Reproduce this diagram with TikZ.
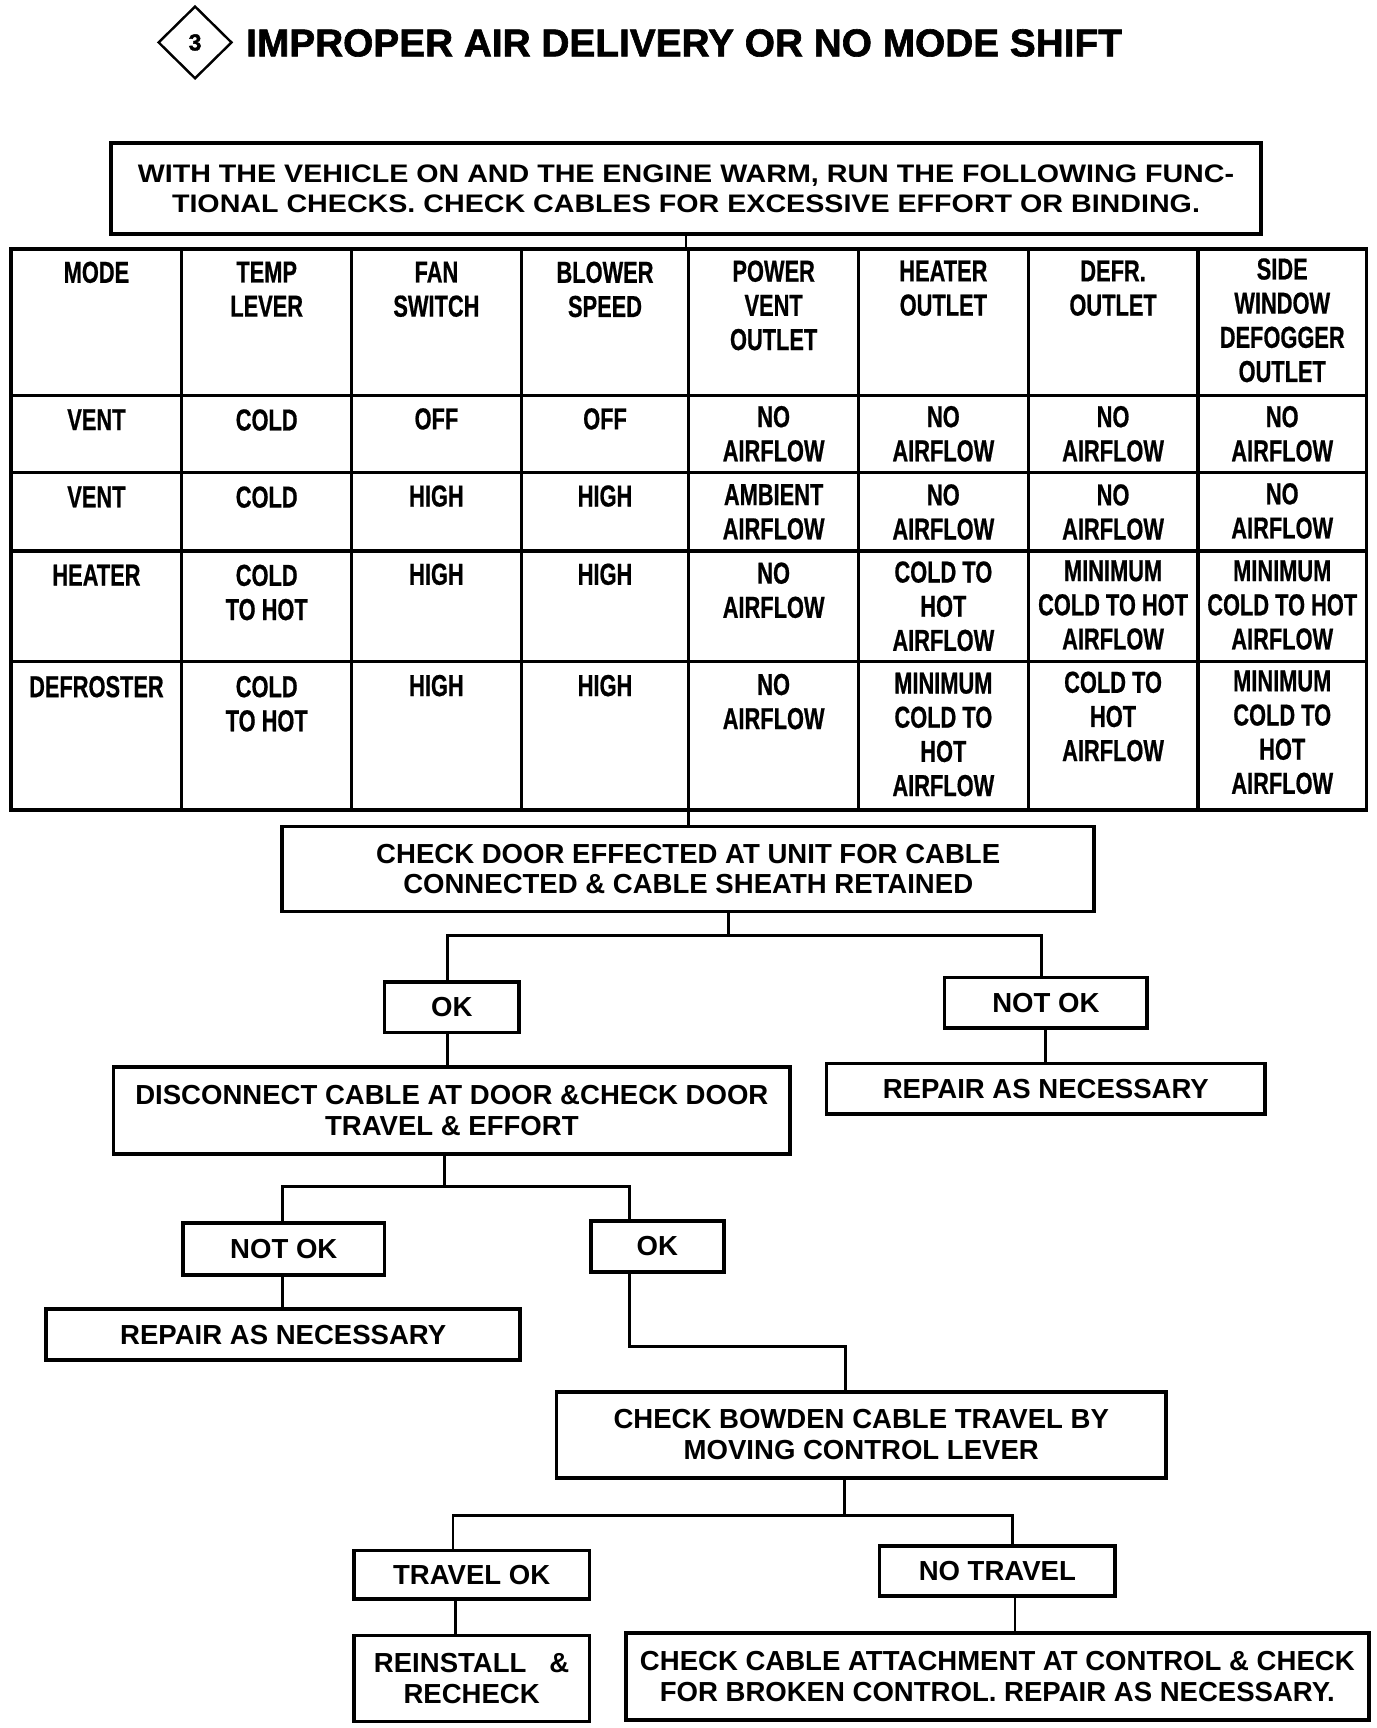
\documentclass[tikz,border=0pt]{standalone}
\usepackage{fontspec}
\setmainfont{Liberation Sans}
\newfontfamily\tabfont{Liberation Sans}[FakeStretch=0.72,FakeBold=0.6]
\newfontfamily\topfont{Liberation Sans}[FakeStretch=1.13]
\newfontfamily\titlefont{Liberation Sans}[FakeBold=1.6]
\usetikzlibrary{shapes.geometric}
\newcommand\tcell[4]{\node[cell] (#1) at (#2,#3) {#4};}
\begin{document}
\begin{tikzpicture}[x=0.5pt,y=-0.5pt,
  box/.style={draw, line width=1.7pt, inner sep=0pt, align=center, font=\bfseries\fontsize{12.5}{14}\selectfont},
  wh/.style 2 args={minimum width=#1*0.5pt, minimum height=#2*0.5pt},
  conn/.style={line width=1.3pt},
  tabline/.style={line width=1.5pt},
  cell/.style={anchor=north, inner sep=0pt, align=center, font=\tabfont\bfseries\fontsize{13.75}{15.5}\selectfont},
]
\fill[white] (0,0) rectangle (1249,1568);
\useasboundingbox (0,0) rectangle (1249,1568);

% title
\node[diamond, draw, line width=1.1pt, minimum width=67*0.5pt, minimum height=66*0.5pt, inner sep=0pt,
  font=\titlefont\bfseries\fontsize{10.5}{11}\selectfont] (dia) at (177,38.5) {3};
\node[anchor=west, inner sep=0pt, font=\titlefont\bfseries\fontsize{17.6}{20}\selectfont] (title) at (223,39)
  {IMPROPER AIR DELIVERY OR NO MODE SHIFT};

% top box
\node[box, wh={1043}{82}, line width=1.8pt, font=\topfont\bfseries\fontsize{11.5}{13.5}\selectfont] (top) at (622.5,171)
  {WITH THE VEHICLE ON AND THE ENGINE WARM, RUN THE FOLLOWING FUNC-\\TIONAL CHECKS. CHECK CABLES FOR EXCESSIVE EFFORT OR BINDING.};

% table
\node[draw, line width=1.5pt, inner sep=0pt, wh={1230}{509}] (tbl) at (625,480.5) {};
\foreach \x in {165,319,473,625,779,933,1087} \draw[tabline] (\x,226) -- (\x,735);
\foreach \y in {359,429,500,600} \draw[tabline] (10,\y) -- (1240,\y);

% header
\tcell{h1}{87.5}{237}{MODE}
\tcell{h2}{242}{237}{TEMP\\LEVER}
\tcell{h3}{396}{237}{FAN\\SWITCH}
\tcell{h4}{549}{237}{BLOWER\\SPEED}
\tcell{h5}{702}{236}{POWER\\VENT\\OUTLET}
\tcell{h6}{856}{236}{HEATER\\OUTLET}
\tcell{h7}{1010}{236}{DEFR.\\OUTLET}
\tcell{h8}{1163.5}{234}{SIDE\\WINDOW\\DEFOGGER\\OUTLET}
% row 1
\tcell{a1}{87.5}{371}{VENT}
\tcell{a2}{242}{371}{COLD}
\tcell{a3}{396}{370}{OFF}
\tcell{a4}{549}{370}{OFF}
\tcell{a5}{702}{368}{NO\\AIRFLOW}
\tcell{a6}{856}{368}{NO\\AIRFLOW}
\tcell{a7}{1010}{368}{NO\\AIRFLOW}
\tcell{a8}{1163.5}{368}{NO\\AIRFLOW}
% row 2
\tcell{b1}{87.5}{441}{VENT}
\tcell{b2}{242}{441}{COLD}
\tcell{b3}{396}{440}{HIGH}
\tcell{b4}{549}{440}{HIGH}
\tcell{b5}{702}{439}{AMBIENT\\AIRFLOW}
\tcell{b6}{856}{439}{NO\\AIRFLOW}
\tcell{b7}{1010}{439}{NO\\AIRFLOW}
\tcell{b8}{1163.5}{438}{NO\\AIRFLOW}
% row 3
\tcell{c1}{87.5}{512}{HEATER}
\tcell{c2}{242}{512}{COLD\\TO HOT}
\tcell{c3}{396}{511}{HIGH}
\tcell{c4}{549}{511}{HIGH}
\tcell{c5}{702}{510}{NO\\AIRFLOW}
\tcell{c6}{856}{509}{COLD TO\\HOT\\AIRFLOW}
\tcell{c7}{1010}{508}{MINIMUM\\COLD TO HOT\\AIRFLOW}
\tcell{c8}{1163.5}{508}{MINIMUM\\COLD TO HOT\\AIRFLOW}
% row 4
\tcell{d1}{87.5}{613}{DEFROSTER}
\tcell{d2}{242}{613}{COLD\\TO HOT}
\tcell{d3}{396}{612}{HIGH}
\tcell{d4}{549}{612}{HIGH}
\tcell{d5}{702}{611}{NO\\AIRFLOW}
\tcell{d6}{856}{610}{MINIMUM\\COLD TO\\HOT\\AIRFLOW}
\tcell{d7}{1010}{609}{COLD TO\\HOT\\AIRFLOW}
\tcell{d8}{1163.5}{608}{MINIMUM\\COLD TO\\HOT\\AIRFLOW}

% flow boxes
\node[box, wh={737}{77}] (chkdoor) at (624.5,788.5) {CHECK DOOR EFFECTED AT UNIT FOR CABLE\\CONNECTED \& CABLE SHEATH RETAINED};
\node[box, wh={122}{46}] (ok1) at (410,914) {OK};
\node[box, wh={184}{46}] (nok1) at (949,910) {NOT OK};
\node[box, wh={398}{46}] (rep1) at (949,988) {REPAIR AS NECESSARY};
\node[box, wh={614}{79}] (disc) at (410,1007.5) {DISCONNECT CABLE AT DOOR \&CHECK DOOR\\TRAVEL \& EFFORT};
\node[box, wh={183}{47}] (nok2) at (257.5,1133.5) {NOT OK};
\node[box, wh={121}{46}] (ok2) at (596.5,1131) {OK};
\node[box, wh={430}{46}] (rep2) at (257,1211) {REPAIR AS NECESSARY};
\node[box, wh={553}{78}] (bow) at (781.5,1302) {CHECK BOWDEN CABLE TRAVEL BY\\MOVING CONTROL LEVER};
\node[box, wh={214}{44}] (tok) at (428,1429) {TRAVEL OK};
\node[box, wh={214}{45}] (ntr) at (905,1425.5) {NO TRAVEL};
\node[box, wh={214}{78}] (rein) at (428,1523) {REINSTALL\ \ \ \&\\RECHECK};
\node[box, wh={674}{79}] (chk) at (905,1521.5) {CHECK CABLE ATTACHMENT AT CONTROL \& CHECK\\FOR BROKEN CONTROL. REPAIR AS NECESSARY.};

% connectors
\coordinate (j1) at (661,849);
\coordinate (b1l) at (406,849);
\coordinate (b1r) at (945,849);
\draw[conn] (top.south) -- (top.south |- tbl.north);
\draw[conn] (chkdoor.north |- tbl.south) -- (chkdoor.north);
\draw[conn] (j1 |- chkdoor.south) -- (j1);
\draw[conn] (b1l |- ok1.north) -- (b1l) -- (b1r) -- (b1r |- nok1.north);
\draw[conn] (nok1.south) -- (rep1.north);
\draw[conn] (b1l |- ok1.south) -- (b1l |- disc.north);
\coordinate (j2) at (403,1077);
\coordinate (b2l) at (256,1077);
\coordinate (b2r) at (571,1077);
\draw[conn] (j2 |- disc.south) -- (j2);
\draw[conn] (b2l |- nok2.north) -- (b2l) -- (b2r) -- (b2r |- ok2.north);
\draw[conn] (b2l |- nok2.south) -- (b2l |- rep2.north);
\coordinate (b3a) at (571,1222);
\coordinate (b3b) at (767,1222);
\draw[conn] (b3a |- ok2.south) -- (b3a) -- (b3b) -- (b3b |- bow.north);
\coordinate (j4) at (766,1375);
\coordinate (b4l) at (411,1375);
\coordinate (b4r) at (919,1375);
\draw[conn] (j4 |- bow.south) -- (j4);
\draw[conn] (b4l |- tok.north) -- (b4l) -- (b4r) -- (b4r |- ntr.north);
\coordinate (x5) at (413,1460);
\draw[conn] (x5 |- tok.south) -- (x5 |- rein.north);
\coordinate (x6) at (921,1460);
\draw[conn] (x6 |- ntr.south) -- (x6 |- chk.north);
\end{tikzpicture}
\end{document}
